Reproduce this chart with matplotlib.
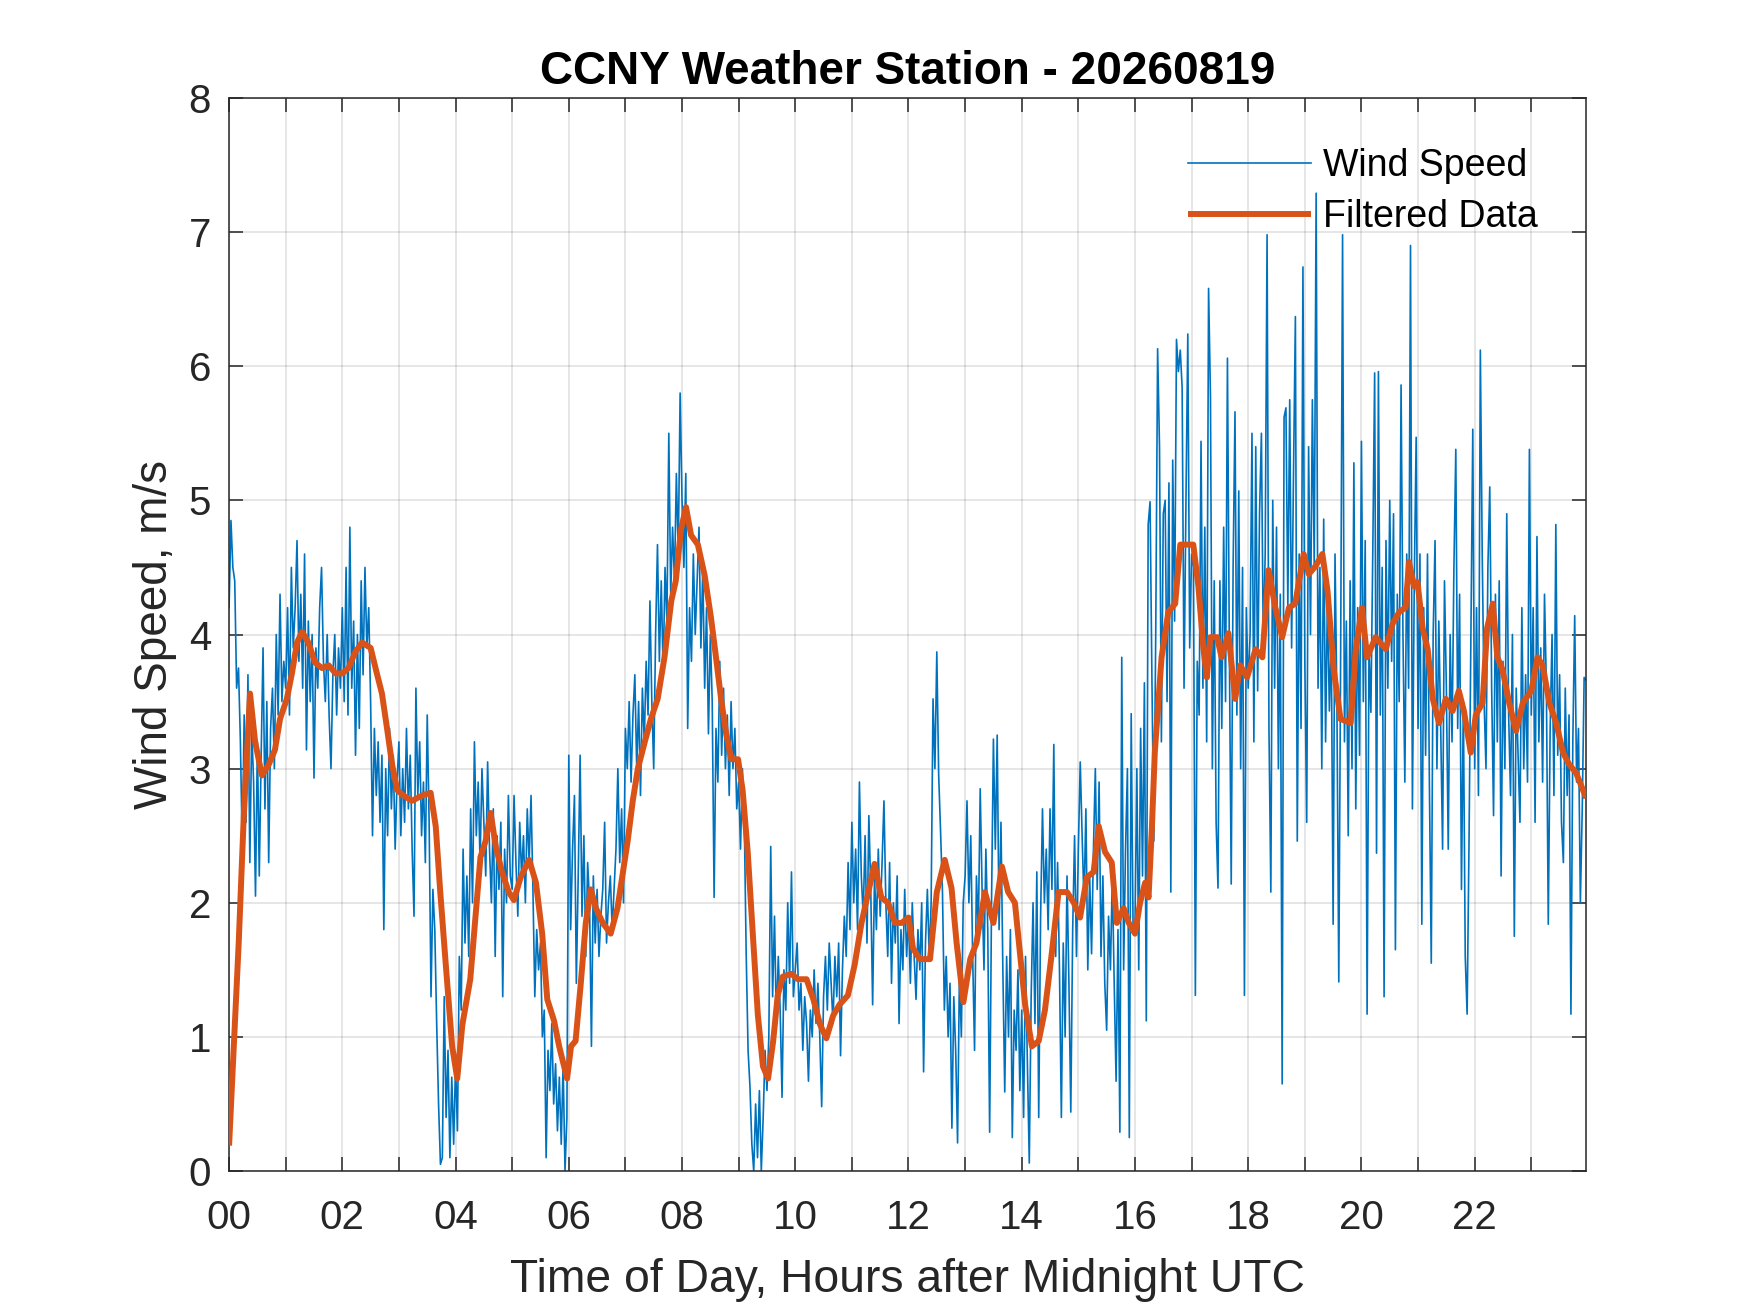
import numpy as np
import matplotlib
matplotlib.use('Agg')
import matplotlib.pyplot as plt

plt.rcParams['font.family'] = ['Liberation Sans', 'DejaVu Sans']

# ---- Wind speed, 2-minute samples, one list per hour (m/s) ----
h00 = [4.2, 4.85, 4.5, 4.4, 3.6, 3.75, 3.2, 2.4, 3.4, 2.6, 3.7, 2.3, 3.3, 2.9, 2.05, 3.2, 2.2, 3.1, 3.9, 2.7, 3.5, 2.3, 3.3, 3.6, 3.0, 4.0, 3.4, 4.3, 3.5, 3.8]
h01 = [3.6, 4.2, 3.4, 4.5, 3.9, 4.2, 4.7, 3.8, 4.3, 3.6, 4.6, 3.14, 4.1, 3.5, 4.0, 2.93, 3.9, 3.6, 4.2, 4.5, 3.8, 3.5, 4.0, 3.4, 3.0, 3.7, 4.0, 3.4, 3.9, 3.6]
h02 = [4.2, 3.5, 4.5, 3.4, 4.8, 3.6, 4.1, 3.1, 4.0, 3.3, 4.4, 3.7, 4.5, 3.9, 4.2, 3.5, 2.5, 3.3, 2.8, 3.2, 2.6, 3.1, 1.8, 3.0, 2.5, 3.3, 2.7, 3.1, 2.4, 2.9]
h03 = [3.2, 2.5, 3.0, 2.6, 3.3, 2.7, 3.1, 2.4, 1.9, 3.6, 2.8, 3.2, 2.5, 2.9, 2.3, 3.4, 2.6, 1.3, 2.1, 1.8, 1.1, 0.5, 0.05, 0.1, 1.3, 0.4, 0.9, 0.1, 0.7, 0.2]
h04 = [0.8, 0.3, 1.6, 1.2, 2.4, 1.7, 2.2, 1.6, 2.7, 2.0, 3.2, 2.5, 2.9, 2.3, 3.0, 2.6, 2.2, 3.05, 2.4, 2.0, 2.7, 1.6, 2.5, 2.1, 2.6, 1.3, 2.4, 2.0, 2.8, 2.2]
h05 = [2.1, 2.8, 2.3, 1.9, 2.6, 2.2, 2.5, 2.0, 2.7, 2.3, 2.8, 2.1, 1.3, 1.8, 1.5, 1.7, 1.0, 1.2, 0.1, 0.9, 0.6, 1.1, 0.5, 0.8, 0.3, 0.7, 0.2, 0.8, 0.0, 0.4]
h06 = [3.1, 1.8, 2.4, 2.8, 1.4, 2.2, 3.1, 1.9, 2.5, 1.6, 2.3, 2.0, 0.93, 2.2, 1.7, 2.1, 1.6, 1.9, 2.1, 2.6, 1.7, 2.0, 2.2, 1.8, 2.1, 2.4, 3.0, 2.3, 2.7, 2.0]
h07 = [3.3, 3.0, 3.5, 2.9, 3.4, 3.7, 3.0, 3.5, 2.8, 3.6, 3.2, 3.8, 3.4, 4.25, 3.5, 3.0, 4.0, 4.67, 3.8, 4.4, 3.7, 4.5, 4.1, 5.5, 4.3, 4.8, 4.4, 5.2, 4.6, 5.8]
h08 = [5.0, 4.5, 5.2, 3.3, 4.2, 3.8, 4.6, 4.0, 4.4, 4.8, 3.9, 4.5, 3.6, 4.2, 3.26, 4.0, 3.5, 2.04, 3.3, 2.9, 3.8, 3.1, 3.6, 3.0, 3.4, 2.8, 3.5, 3.0, 3.3, 2.7]
h09 = [2.9, 2.4, 3.0, 2.6, 1.62, 0.9, 0.63, 0.2, 0.0, 0.5, 0.1, 0.6, 0.0, 0.4, 0.9, 0.6, 1.0, 2.42, 1.3, 1.9, 1.1, 1.6, 1.2, 0.55, 1.5, 1.2, 2.0, 1.4, 2.23, 1.3]
h10 = [1.5, 1.7, 1.2, 1.4, 0.9, 1.3, 1.1, 0.67, 1.2, 1.0, 1.5, 1.1, 1.4, 1.0, 0.48, 1.3, 1.6, 1.2, 1.7, 1.4, 1.1, 1.6, 1.3, 1.7, 0.86, 1.5, 1.9, 1.6, 2.3, 1.8]
h11 = [2.6, 2.0, 2.4, 1.8, 2.9, 2.2, 1.9, 2.5, 1.7, 2.65, 2.1, 1.24, 2.2, 1.8, 2.4, 1.9, 2.3, 2.76, 2.0, 1.6, 2.3, 1.4, 2.0, 1.7, 2.2, 1.1, 1.8, 1.5, 2.1, 1.6]
h12 = [1.9, 1.4, 2.0, 1.6, 1.28, 1.8, 1.5, 2.0, 0.74, 1.7, 2.1, 1.6, 2.0, 3.52, 3.0, 3.87, 2.95, 2.53, 2.08, 1.2, 1.6, 1.0, 1.4, 0.32, 1.3, 0.9, 0.21, 1.5, 1.0, 2.0]
h13 = [2.2, 2.76, 2.0, 2.5, 1.6, 0.9, 2.2, 1.8, 2.85, 2.1, 1.5, 2.4, 1.8, 0.29, 2.0, 3.22, 2.4, 3.25, 1.8, 2.6, 1.5, 0.59, 1.6, 1.0, 1.8, 0.25, 1.2, 0.9, 1.5, 0.6]
h14 = [1.2, 0.4, 1.6, 0.8, 0.06, 1.3, 2.0, 1.1, 2.23, 0.4, 1.9, 2.7, 2.0, 2.4, 1.8, 2.7, 2.1, 3.18, 1.6, 2.3, 1.5, 0.4, 1.7, 1.0, 2.2, 1.4, 0.44, 1.8, 2.5, 1.6]
h15 = [2.4, 3.05, 2.5, 2.0, 2.7, 1.5, 2.2, 1.62, 2.4, 3.0, 2.1, 2.9, 1.6, 2.2, 1.4, 1.05, 1.9, 1.5, 2.2, 1.4, 0.67, 1.8, 0.29, 3.83, 1.5, 2.4, 3.0, 0.25, 3.41, 1.8]
h16 = [1.8, 3.0, 1.5, 3.3, 2.2, 3.64, 1.12, 4.82, 4.99, 3.65, 2.46, 4.0, 6.13, 5.4, 3.2, 4.9, 5.0, 3.5, 5.13, 2.08, 5.3, 4.1, 6.2, 5.96, 6.12, 5.84, 3.6, 4.97, 6.24, 3.9]
h17 = [4.6, 4.5, 1.31, 3.8, 3.4, 5.44, 3.6, 4.8, 3.2, 6.58, 5.78, 3.0, 4.4, 2.6, 2.11, 4.4, 3.3, 4.8, 3.5, 6.06, 3.9, 2.14, 4.5, 5.66, 3.4, 5.07, 3.0, 4.5, 1.31, 4.2]
h18 = [3.6, 4.0, 5.5, 3.2, 5.4, 3.58, 4.9, 5.5, 3.9, 4.6, 6.98, 3.3, 2.08, 5.0, 3.6, 4.8, 3.0, 4.3, 0.65, 5.62, 5.69, 4.2, 5.75, 3.9, 5.2, 6.37, 2.46, 4.6, 3.3, 6.74]
h19 = [3.8, 2.6, 5.4, 4.0, 5.75, 4.5, 7.29, 3.6, 4.5, 3.0, 4.86, 3.2, 4.3, 3.43, 4.0, 1.84, 4.6, 3.5, 1.41, 3.9, 6.98, 3.2, 4.1, 2.5, 4.4, 3.0, 5.28, 2.7, 4.2, 3.1]
h20 = [5.44, 3.5, 4.7, 1.17, 3.9, 3.42, 4.6, 5.95, 2.37, 5.96, 3.4, 4.5, 1.3, 4.7, 3.6, 5.0, 3.8, 4.9, 1.65, 4.3, 3.5, 5.86, 4.0, 2.9, 4.6, 3.6, 6.9, 2.7, 4.4, 5.47]
h21 = [3.3, 4.6, 1.84, 4.2, 3.1, 4.6, 2.9, 1.55, 4.0, 4.7, 3.0, 4.1, 3.3, 2.4, 4.4, 3.6, 2.4, 4.0, 3.2, 4.5, 5.38, 3.3, 4.3, 2.1, 3.5, 1.6, 1.17, 2.45, 4.0, 5.53]
h22 = [3.0, 4.2, 2.8, 6.12, 4.6, 3.5, 3.0, 4.5, 5.1, 3.6, 2.65, 4.3, 3.2, 4.4, 2.2, 3.8, 3.0, 4.9, 3.4, 2.8, 4.0, 1.75, 3.6, 3.1, 2.6, 4.2, 3.0, 3.7, 2.9, 5.38]
h23 = [3.4, 4.2, 2.6, 4.73, 3.2, 3.9, 2.9, 4.3, 3.6, 1.84, 3.3, 4.0, 2.8, 4.82, 3.1, 3.7, 2.6, 2.3, 3.6, 2.8, 3.4, 1.17, 3.2, 4.14, 2.9, 3.3, 2.0, 2.7, 3.68, 3.66]

wind_speed = (h00 + h01 + h02 + h03 + h04 + h05 + h06 + h07 + h08 + h09 + h10 + h11 +
              h12 + h13 + h14 + h15 + h16 + h17 + h18 + h19 + h20 + h21 + h22 + h23)
sample_minutes = 2
wind_hours = np.arange(len(wind_speed)) * sample_minutes / 60.0

# ---- Filtered data: (hour, value) ----
filt_hours = [0.0, 0.17, 0.26, 0.37, 0.46, 0.58, 0.7, 0.81, 0.9, 1.02, 1.11, 1.2, 1.29, 1.4, 1.52, 1.64, 1.76, 1.88,
              2.0, 2.11, 2.23, 2.35, 2.5, 2.61, 2.7, 2.79, 2.88, 2.97, 3.08, 3.23, 3.41, 3.56, 3.65, 3.73, 3.82, 3.94,
              4.03, 4.12, 4.26, 4.35, 4.44, 4.53, 4.62, 4.71, 4.82, 4.94, 5.03, 5.15, 5.3, 5.42, 5.53, 5.62, 5.74, 5.83,
              5.97, 6.04, 6.12, 6.21, 6.3, 6.39, 6.48, 6.6, 6.74, 6.86, 6.95, 7.04, 7.13, 7.22, 7.33, 7.45, 7.57, 7.69,
              7.81, 7.89, 7.98, 8.07, 8.16, 8.28, 8.4, 8.51, 8.6, 8.69, 8.78, 8.87, 8.99, 9.07, 9.16, 9.25, 9.34, 9.43,
              9.52, 9.61, 9.69, 9.78, 9.93, 10.05, 10.2, 10.32, 10.44, 10.55, 10.67, 10.78, 10.93, 11.05, 11.17, 11.29,
              11.4, 11.52, 11.64, 11.76, 11.88, 12.0, 12.08, 12.2, 12.38, 12.5, 12.64, 12.76, 12.85, 12.97, 13.09, 13.2,
              13.35, 13.5, 13.65, 13.76, 13.88, 13.97, 14.06, 14.18, 14.3, 14.41, 14.53, 14.65, 14.8, 14.92, 15.03,
              15.15, 15.27, 15.36, 15.47, 15.59, 15.68, 15.8, 15.89, 16.0, 16.09, 16.18, 16.24, 16.3, 16.35, 16.47,
              16.59, 16.71, 16.8, 16.94, 17.03, 17.12, 17.21, 17.27, 17.33, 17.45, 17.53, 17.65, 17.77, 17.86, 17.98,
              18.13, 18.25, 18.36, 18.48, 18.6, 18.72, 18.83, 18.98, 19.07, 19.19, 19.31, 19.4, 19.51, 19.63, 19.81,
              19.9, 20.01, 20.1, 20.25, 20.43, 20.55, 20.67, 20.78, 20.84, 20.93, 20.99, 21.08, 21.17, 21.26, 21.37,
              21.49, 21.61, 21.72, 21.81, 21.93, 22.02, 22.14, 22.22, 22.32, 22.4, 22.49, 22.61, 22.73, 22.85, 23.0,
              23.11, 23.2, 23.32, 23.44, 23.56, 23.67, 23.79, 23.94, 23.97]
filt_values = [0.19, 1.7, 2.65, 3.56, 3.2, 2.95, 3.03, 3.14, 3.37, 3.52, 3.71, 3.94, 4.02, 3.94, 3.79, 3.75, 3.77, 3.71,
               3.71, 3.75, 3.87, 3.94, 3.9, 3.71, 3.56, 3.3, 3.03, 2.84, 2.8, 2.76, 2.8, 2.82, 2.57, 2.08, 1.58, 0.93,
               0.69, 1.09, 1.43, 1.89, 2.34, 2.46, 2.67, 2.42, 2.23, 2.08, 2.02, 2.19, 2.32, 2.15, 1.77, 1.28, 1.12, 0.93,
               0.69, 0.93, 0.97, 1.39, 1.85, 2.1, 1.96, 1.85, 1.77, 1.96, 2.21, 2.46, 2.76, 3.0, 3.18, 3.37, 3.52, 3.83,
               4.25, 4.4, 4.78, 4.95, 4.74, 4.67, 4.44, 4.13, 3.83, 3.52, 3.26, 3.07, 3.07, 2.84, 2.38, 1.77, 1.16, 0.78,
               0.69, 0.97, 1.31, 1.45, 1.47, 1.43, 1.43, 1.28, 1.09, 0.99, 1.16, 1.24, 1.31, 1.54, 1.85, 2.08,
               2.29, 2.04, 2.0, 1.85, 1.85, 1.89, 1.66, 1.58, 1.58, 2.08, 2.32, 2.11, 1.7, 1.26, 1.58, 1.7,
               2.08, 1.85, 2.27, 2.08, 2.0, 1.62, 1.24, 0.93, 0.97, 1.2, 1.62, 2.08, 2.08, 2.0, 1.89,
               2.19, 2.23, 2.57, 2.38, 2.3, 1.85, 1.96, 1.85, 1.77, 2.0, 2.15, 2.04, 2.57, 3.12, 3.83,
               4.17, 4.23, 4.67, 4.67, 4.67, 4.36, 3.89, 3.68, 3.98, 3.98, 3.83, 4.01, 3.52, 3.77, 3.68,
               3.89, 3.83, 4.48, 4.2, 3.98, 4.2, 4.23, 4.6, 4.45, 4.51, 4.6, 4.33, 3.74, 3.37, 3.34,
               3.89, 4.2, 3.83, 3.98, 3.89, 4.08, 4.17, 4.2, 4.54, 4.36, 4.39, 4.05, 3.89, 3.52, 3.34,
               3.52, 3.43, 3.58, 3.43, 3.12, 3.4, 3.49, 4.05, 4.23, 3.83, 3.74, 3.49, 3.28, 3.49, 3.58,
               3.83, 3.77, 3.49, 3.34, 3.12, 3.03, 2.97, 2.81, 2.78]

hour_ticks = list(range(24))
hour_labels = ['%02d' % h if h % 2 == 0 else '' for h in hour_ticks]
speed_ticks = list(range(9))

title_text = 'CCNY Weather Station - 20260819'
xlabel_text = 'Time of Day, Hours after Midnight UTC'
ylabel_text = 'Wind Speed, m/s'

dark = '#262626'

fig = plt.figure(figsize=(17.5, 13.13), dpi=100)
ax = fig.add_axes([0.1309, 0.1081, 0.7754, 0.8173])

ax.plot(wind_hours, wind_speed, color='#0072BD', lw=1.2, label='Wind Speed', zorder=2)
ax.plot(filt_hours, filt_values, color='#D95319', lw=4.3, label='Filtered Data', zorder=3,
        solid_joinstyle='round', solid_capstyle='butt')

ax.set_xlim(0, wind_hours[-1])
ax.set_ylim(0, 8)
ax.set_xticks(hour_ticks)
ax.set_xticklabels(hour_labels)
ax.set_yticks(speed_ticks)

ax.grid(True, color=dark, alpha=0.15, lw=1.1)
ax.set_axisbelow(True)
for s in ax.spines.values():
    s.set_color(dark)
    s.set_linewidth(1.1)
ax.tick_params(direction='in', top=True, right=True, length=10, width=1.1,
               color=dark, labelcolor=dark, labelsize=29)
ax.tick_params(axis='x', pad=20)
ax.tick_params(axis='y', pad=13)

ax.set_title(title_text, fontsize=33, fontweight='bold', color='black', pad=10)
ax.set_xlabel(xlabel_text, fontsize=33.3, color=dark, labelpad=15)
ax.set_ylabel(ylabel_text, fontsize=33, color=dark, labelpad=8)

leg = ax.legend(loc='upper right', frameon=False, fontsize=27, handlelength=3.3,
                handletextpad=0.3, labelspacing=0.4, bbox_to_anchor=(0.989, 0.985))
for t in leg.get_texts():
    t.set_color('black')

fig.savefig('out.png', dpi=100)
